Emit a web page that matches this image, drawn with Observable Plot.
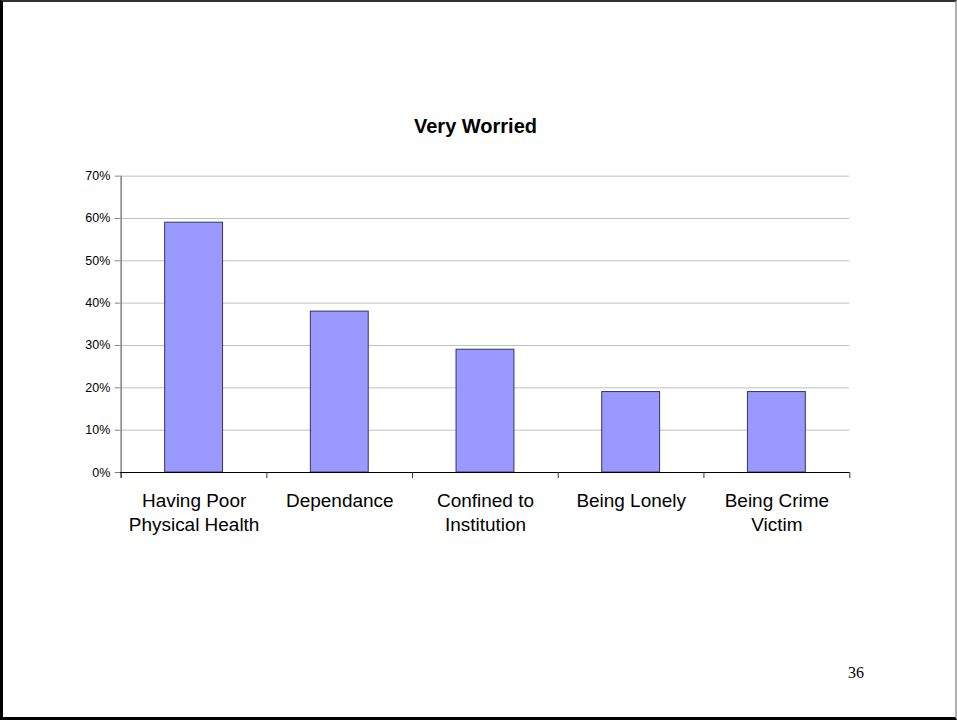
<!DOCTYPE html>
<html>
<head>
<meta charset="utf-8">
<script src="https://cdn.jsdelivr.net/npm/d3@7"></script>
<script src="https://cdn.jsdelivr.net/npm/@observablehq/plot@0.6"></script>
<style>
  html, body { margin: 0; padding: 0; background: #fff; }
  #page {
    position: relative; width: 957px; height: 720px; box-sizing: border-box;
    border-left: 3px solid #000; border-bottom: 3px solid #000;
    border-top: 2px solid #333; border-right: 2px solid #b0b0b0;
    overflow: hidden; font-family: "Liberation Sans", Arial, sans-serif;
  }
  #chart { position: absolute; left: -3px; top: -2px; }
  #title { position: absolute; left: -6px; width: 957px; top: 113px; text-align: center;
    font: bold 20px "Liberation Sans", Arial, sans-serif; color: #000; }
  #pagenum { position: absolute; left: 845px; top: 662px; font: 16px "Liberation Serif", "Times New Roman", serif; color: #000; }
</style>
</head>
<body>
<div id="page">
  <div id="title">Very Worried</div>
  <div id="chart"></div>
  <div id="pagenum">36</div>
</div>
<script>
const categories = ["Having Poor\nPhysical Health", "Dependance", "Confined to\nInstitution", "Being Lonely", "Being Crime\nVictim"];
const values = [0.59, 0.38, 0.29, 0.19, 0.19];
const yTicks = [0, 0.1, 0.2, 0.3, 0.4, 0.5, 0.6, 0.7];

const data = categories.map((c, i) => ({category: c, value: values[i]}));
const step = (957 - 120 - 106) / categories.length;

const chart = Plot.plot({
  width: 957,
  height: 560,
  marginLeft: 120,
  marginRight: 106,
  marginTop: 176,
  marginBottom: 87,
  style: {fontFamily: "'Liberation Sans', Arial, sans-serif", background: "transparent", overflow: "visible"},
  x: {domain: categories, padding: 0, label: null, axis: null},
  y: {domain: [0, 0.7], ticks: yTicks, label: null, axis: null},
  marks: [
    Plot.gridY(yTicks, {stroke: "#c0c0c0", strokeOpacity: 1}),
    Plot.barY(data, {x: "category", y: "value", fill: "#9999ff", stroke: "#333366", strokeWidth: 1, insetLeft: 44, insetRight: 44}),
    Plot.axisY({ticks: yTicks, tickFormat: d3.format(".0%"), tickSize: 5, tickPadding: 5, fontSize: 12.5, stroke: "#808080", fill: "#000"}),
    Plot.ruleX([categories[0]], {dx: -step / 2, stroke: "#808080", strokeWidth: 1.5, insetBottom: -6}),
    Plot.ruleY([0], {stroke: "#000", strokeWidth: 1.2}),
    Plot.axisX({ticks: categories, tickSize: 6, text: null, dx: -step / 2, stroke: "#333"}),
    Plot.axisX({ticks: [categories[categories.length - 1]], tickSize: 6, text: null, dx: step / 2, stroke: "#333"}),
    Plot.axisX({ticks: categories, tickSize: 0, tickPadding: 17, fontSize: 19, lineHeight: 1.28, fill: "#000"})
  ]
});
document.getElementById("chart").appendChild(chart);
</script>
</body>
</html>
